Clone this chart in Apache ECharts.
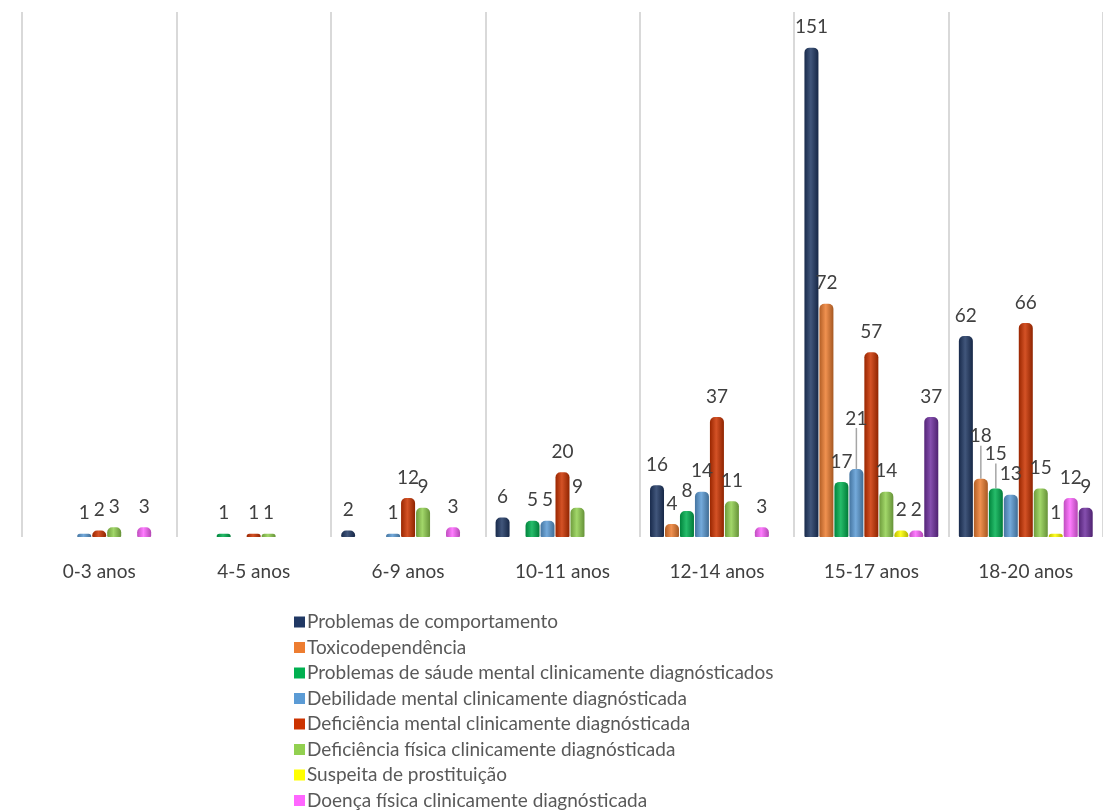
<!DOCTYPE html>
<html>
<head>
<meta charset="utf-8">
<script src="https://cdn.jsdelivr.net/npm/echarts@6/dist/echarts.min.js"></script>
<style>
  html, body { margin: 0; padding: 0; background: #fff; }
  #chart { width: 1103px; height: 811px; }
</style>
</head>
<body>
<div id="chart"></div>
<script>
// age groups
const categories = ['0-3 anos', '4-5 anos', '6-9 anos', '10-11 anos', '12-14 anos', '15-17 anos', '18-20 anos']

// one array per problem type (null = nothing drawn)
const comportamento   = [null, null, 2, 6, 16, 151, 62]
const toxico          = [null, null, null, null, 4, 72, 18]
const saudeMental     = [null, 1, null, 5, 8, 17, 15]
const debilidade      = [1, null, 1, 5, 14, 21, 13]
const defMental       = [2, 1, 12, 20, 37, 57, 66]
const defFisica       = [3, 1, 9, 9, 11, 14, 15]
const prostituicao    = [null, null, null, null, null, 2, 1]
const doencaFisica    = [3, null, 3, null, 3, 2, 12]
const outros          = [null, null, null, null, null, 37, 9]

const seriesNames = [
  'Problemas de comportamento',
  'Toxicodependência',
  'Problemas de sáude mental clinicamente diagnósticados',
  'Debilidade mental clinicamente diagnósticada',
  'Deficiência mental clinicamente diagnósticada',
  'Deficiência física clinicamente diagnósticada',
  'Suspeita de prostituição',
  'Doença física clinicamente diagnósticada',
  'Outros'
]
const seriesData = [comportamento, toxico, saudeMental, debilidade, defMental, defFisica, prostituicao, doencaFisica, outros]
const colors = ['#203864', '#ED7D31', '#00B050', '#5B9BD5', '#CC3300', '#92D050', '#FFFF00', '#FF66FF', '#7030A0']

// labels that Excel pushed up (with a leader line): 'series-category' -> dy
const liftedLabels = { '3-5': -30, '1-6': -22, '2-6': -14 }

function shade(hex, f) {
  const n = parseInt(hex.slice(1), 16)
  let r = (n >> 16) & 255, g = (n >> 8) & 255, b = n & 255
  const m = c => Math.max(0, Math.min(255, Math.round(f < 0 ? c * (1 + f) : c + (255 - c) * f)))
  return 'rgb(' + m(r) + ',' + m(g) + ',' + m(b) + ')'
}

const chart = echarts.init(document.getElementById('chart'))
const FONT = 'Lato'

const series = seriesData.map((arr, si) => {
  const c = colors[si]
  return {
    name: seriesNames[si],
    type: 'bar',
    barWidth: 14,
    barGap: '7%',
    data: arr.map((v, ci) => {
      if (liftedLabels[si + '-' + ci] !== undefined) {
        return { value: v, labelLine: { show: true, lineStyle: { color: '#a6a6a6', width: 1.5 } } }
      }
      return v
    }),
    itemStyle: {
      borderRadius: [5, 5, 1, 1],
      color: new echarts.graphic.LinearGradient(0, 0, 1, 0, [
        { offset: 0, color: shade(c, -0.25) },
        { offset: 0.45, color: shade(c, 0.15) },
        { offset: 1, color: shade(c, -0.3) }
      ])
    },
    label: {
      show: true,
      position: 'top',
      distance: 11,
      offset: [-6, 0],
      color: '#404040',
      fontFamily: FONT,
      fontSize: 19
    },
    labelLine: { show: false },
    labelLayout: function (p) {
      const dy = liftedLabels[p.seriesIndex + '-' + p.dataIndex]
      return dy !== undefined ? { dy: dy } : {}
    }
  }
})

const option = {
  animation: false,
  color: colors,
  grid: { left: 22, right: -11, top: 12, bottom: 274, containLabel: false },
  xAxis: {
    type: 'category',
    data: categories,
    axisLine: { show: false },
    axisTick: { show: false },
    splitLine: { show: true, lineStyle: { color: '#d9d9d9', width: 2 } },
    axisLabel: { color: '#404040', fontFamily: FONT, fontSize: 19, margin: 25 }
  },
  yAxis: {
    type: 'value',
    min: 0,
    max: 162,
    show: false,
    splitLine: { show: false }
  },
  legend: {
    data: seriesNames.slice(0, 8).map((n, i) => ({ name: n, itemStyle: { color: colors[i] } })),
    orient: 'vertical',
    left: 289,
    top: 606,
    height: 300,
    itemWidth: 11,
    itemHeight: 11,
    itemGap: 3.5,
    icon: 'rect',
    textStyle: { color: '#595959', fontFamily: FONT, fontSize: 19, lineHeight: 22, padding: [0, 0, 0, -3] }
  },
  series: series
}
chart.setOption(option)
</script>
</body>
</html>
